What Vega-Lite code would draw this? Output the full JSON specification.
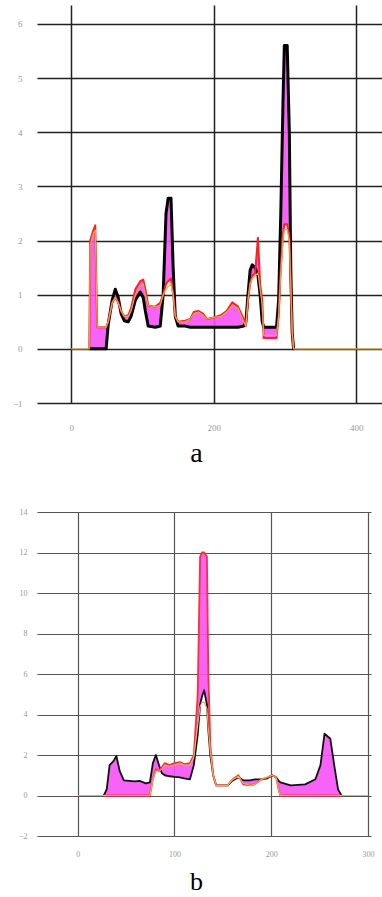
{
  "$schema": "https://vega.github.io/schema/vega-lite/v6.json",
  "padding": {"left": 12, "top": 5, "right": 0, "bottom": 0},
  "background": "white",
  "config": {"view": {"stroke": null}, "concat": {"spacing": 41}},
  "vconcat": [
    {
      "width": 345,
      "height": 398,
      "data": {"values": [
        {"x": 0, "black": null, "red": null, "orange": 0},
        {"x": 25.3, "black": 0, "red": 0, "orange": 0},
        {"x": 26.7, "black": 0, "red": 2.0, "orange": 1.9},
        {"x": 30, "black": 0, "red": 2.15, "orange": 2.1},
        {"x": 33.7, "black": 0, "red": 2.28, "orange": 2.2},
        {"x": 36.5, "black": 0, "red": 0.4, "orange": 0.4},
        {"x": 49, "black": 0, "red": 0.4, "orange": 0.4},
        {"x": 51.9, "black": 0.45, "red": 0.5, "orange": 0.5},
        {"x": 57.5, "black": 0.9, "red": 0.85, "orange": 0.85},
        {"x": 61.8, "black": 1.1, "red": 0.95, "orange": 0.95},
        {"x": 66, "black": 0.95, "red": 0.85, "orange": 0.85},
        {"x": 70, "black": 0.65, "red": 0.7, "orange": 0.7},
        {"x": 74.4, "black": 0.52, "red": 0.6, "orange": 0.6},
        {"x": 80, "black": 0.5, "red": 0.62, "orange": 0.6},
        {"x": 84, "black": 0.6, "red": 0.75, "orange": 0.7},
        {"x": 90, "black": 0.9, "red": 1.1, "orange": 1.0},
        {"x": 96.8, "black": 1.05, "red": 1.25, "orange": 1.15},
        {"x": 101, "black": 0.95, "red": 1.28, "orange": 1.2},
        {"x": 104, "black": 0.7, "red": 1.1, "orange": 1.0},
        {"x": 108, "black": 0.42, "red": 0.8, "orange": 0.8},
        {"x": 118, "black": 0.4, "red": 0.78, "orange": 0.78},
        {"x": 124.9, "black": 0.42, "red": 0.85, "orange": 0.8},
        {"x": 129, "black": 1.0, "red": 1.0, "orange": 1.0},
        {"x": 133, "black": 2.5, "red": 1.2, "orange": 1.1},
        {"x": 136, "black": 2.78, "red": 1.25, "orange": 1.15},
        {"x": 140, "black": 2.78, "red": 1.3, "orange": 1.2},
        {"x": 143, "black": 1.5, "red": 1.0, "orange": 1.0},
        {"x": 146, "black": 0.6, "red": 0.6, "orange": 0.6},
        {"x": 150, "black": 0.42, "red": 0.5, "orange": 0.5},
        {"x": 160, "black": 0.42, "red": 0.52, "orange": 0.5},
        {"x": 167, "black": 0.4, "red": 0.55, "orange": 0.55},
        {"x": 172, "black": 0.4, "red": 0.68, "orange": 0.65},
        {"x": 178, "black": 0.4, "red": 0.7, "orange": 0.68},
        {"x": 185, "black": 0.4, "red": 0.65, "orange": 0.62},
        {"x": 190, "black": 0.4, "red": 0.55, "orange": 0.55},
        {"x": 200, "black": 0.4, "red": 0.58, "orange": 0.58},
        {"x": 210, "black": 0.4, "red": 0.62, "orange": 0.6},
        {"x": 218, "black": 0.4, "red": 0.7, "orange": 0.68},
        {"x": 226, "black": 0.4, "red": 0.86, "orange": 0.8},
        {"x": 234, "black": 0.4, "red": 0.78, "orange": 0.75},
        {"x": 242, "black": 0.42, "red": 0.55, "orange": 0.5},
        {"x": 245, "black": 0.5, "red": 0.42, "orange": 0.42},
        {"x": 248, "black": 1.0, "red": 0.9, "orange": 0.9},
        {"x": 251, "black": 1.45, "red": 1.2, "orange": 1.2},
        {"x": 254, "black": 1.55, "red": 1.35, "orange": 1.3},
        {"x": 258, "black": 1.5, "red": 1.4, "orange": 1.35},
        {"x": 262, "black": 1.35, "red": 2.05, "orange": 1.4},
        {"x": 265, "black": 1.0, "red": 1.2, "orange": 1.1},
        {"x": 268, "black": 0.5, "red": 0.9, "orange": 0.8},
        {"x": 270, "black": 0.4, "red": 0.2, "orange": 0.25},
        {"x": 288, "black": 0.4, "red": 0.2, "orange": 0.25},
        {"x": 291, "black": 0.9, "red": 0.6, "orange": 0.6},
        {"x": 294, "black": 2.5, "red": 1.5, "orange": 1.4},
        {"x": 297, "black": 4.5, "red": 2.1, "orange": 2.0},
        {"x": 299, "black": 5.6, "red": 2.3, "orange": 2.2},
        {"x": 303, "black": 5.6, "red": 2.3, "orange": 2.2},
        {"x": 306, "black": 4.0, "red": 2.1, "orange": 2.0},
        {"x": 308, "black": 1.5, "red": 1.2, "orange": 1.2},
        {"x": 310, "black": 0.3, "red": 0.3, "orange": 0.3},
        {"x": 312, "black": 0, "red": 0, "orange": 0},
        {"x": 436, "black": null, "red": null, "orange": 0}
      ]},
      "encoding": {
        "x": {"field": "x", "type": "quantitative",
          "scale": {"domain": [-48, 436], "nice": false, "zero": false},
          "axis": {"values": [0, 200, 400], "grid": true, "gridColor": "#222", "gridWidth": 1.5,
            "domain": false, "ticks": false, "labelColor": "#999", "labelFont": "Liberation Serif",
            "labelFontSize": 9, "labelPadding": 20, "title": "a", "titleFont": "Liberation Serif",
            "titleFontSize": 28, "titleFontWeight": "normal", "titleColor": "#000", "titlePadding": 7,
            "titleX": 159, "titleAlign": "center"}}
      },
      "layer": [
        {"mark": {"type": "area", "color": "#f552f5", "opacity": 0.9},
          "encoding": {"y": {"field": "black", "type": "quantitative",
            "scale": {"domain": [-1, 6.35], "nice": false, "zero": false},
            "axis": {"values": [-1, 0, 1, 2, 3, 4, 5, 6], "grid": true, "gridColor": "#222", "gridWidth": 1.5,
              "domain": false, "ticks": false, "labelColor": "#999", "labelFont": "Liberation Serif",
              "labelFontSize": 9, "labelPadding": 15, "title": null}},
            "y2": {"field": "red"}}},
        {"mark": {"type": "line", "color": "#000", "strokeWidth": 3, "strokeJoin": "round", "strokeCap": "round"},
          "encoding": {"y": {"field": "black", "type": "quantitative", "scale": {"domain": [-1, 6.35], "nice": false, "zero": false},
            "axis": {"values": [-1, 0, 1, 2, 3, 4, 5, 6], "grid": true, "gridColor": "#222", "gridWidth": 1.5,
              "domain": false, "ticks": false, "labelColor": "#999", "labelFont": "Liberation Serif",
              "labelFontSize": 9, "labelPadding": 15, "title": null}}}},
        {"mark": {"type": "line", "color": "#ff2020", "strokeWidth": 2, "strokeJoin": "round"},
          "encoding": {"y": {"field": "red", "type": "quantitative", "scale": {"domain": [-1, 6.35], "nice": false, "zero": false},
            "axis": {"values": [-1, 0, 1, 2, 3, 4, 5, 6], "grid": true, "gridColor": "#222", "gridWidth": 1.5,
              "domain": false, "ticks": false, "labelColor": "#999", "labelFont": "Liberation Serif",
              "labelFontSize": 9, "labelPadding": 15, "title": null}}}},
        {"mark": {"type": "line", "color": "#e0a850", "strokeWidth": 1.2},
          "encoding": {"y": {"field": "orange", "type": "quantitative", "scale": {"domain": [-1, 6.35], "nice": false, "zero": false},
            "axis": {"values": [-1, 0, 1, 2, 3, 4, 5, 6], "grid": true, "gridColor": "#222", "gridWidth": 1.5,
              "domain": false, "ticks": false, "labelColor": "#999", "labelFont": "Liberation Serif",
              "labelFontSize": 9, "labelPadding": 15, "title": null}}}}
      ]
    },
    {
      "width": 334,
      "height": 324,
      "data": {"values": [
        {"x": 0, "black": null, "red": null, "orange": 0},
        {"x": 27, "black": 0, "red": 0, "orange": 0},
        {"x": 30, "black": 0.3, "red": 0, "orange": 0},
        {"x": 33, "black": 1.5, "red": 0, "orange": 0},
        {"x": 37, "black": 1.7, "red": 0, "orange": 0},
        {"x": 40, "black": 1.95, "red": 0, "orange": 0},
        {"x": 43.5, "black": 1.2, "red": 0, "orange": 0},
        {"x": 47.7, "black": 0.75, "red": 0, "orange": 0},
        {"x": 59, "black": 0.7, "red": 0, "orange": 0},
        {"x": 64, "black": 0.72, "red": 0, "orange": 0},
        {"x": 70.5, "black": 0.6, "red": 0, "orange": 0},
        {"x": 74.6, "black": 0.65, "red": 0, "orange": 0},
        {"x": 77.7, "black": 1.6, "red": 0.8, "orange": 0.8},
        {"x": 80.8, "black": 2.0, "red": 1.3, "orange": 1.2},
        {"x": 84, "black": 1.5, "red": 1.2, "orange": 1.2},
        {"x": 87, "black": 1.1, "red": 1.4, "orange": 1.3},
        {"x": 90, "black": 1.0, "red": 1.6, "orange": 1.5},
        {"x": 95, "black": 0.95, "red": 1.5, "orange": 1.45},
        {"x": 100, "black": 0.92, "red": 1.6, "orange": 1.5},
        {"x": 105.7, "black": 0.9, "red": 1.65, "orange": 1.6},
        {"x": 110, "black": 0.85, "red": 1.55, "orange": 1.5},
        {"x": 116, "black": 0.8, "red": 1.6, "orange": 1.5},
        {"x": 120, "black": 1.5, "red": 2.0, "orange": 1.9},
        {"x": 124, "black": 3.0, "red": 5.0, "orange": 3.5},
        {"x": 126.5, "black": 4.5, "red": 11.8, "orange": 4.4},
        {"x": 128.5, "black": 4.9, "red": 12.0, "orange": 4.6},
        {"x": 130.6, "black": 5.2, "red": 12.0, "orange": 4.6},
        {"x": 133.5, "black": 4.5, "red": 11.8, "orange": 4.3},
        {"x": 135, "black": 3.2, "red": 6.0, "orange": 3.3},
        {"x": 137, "black": 2.0, "red": 2.5, "orange": 2.2},
        {"x": 140, "black": 1.0, "red": 1.0, "orange": 1.0},
        {"x": 143, "black": 0.5, "red": 0.5, "orange": 0.5},
        {"x": 155, "black": 0.5, "red": 0.5, "orange": 0.5},
        {"x": 159, "black": 0.7, "red": 0.75, "orange": 0.75},
        {"x": 166, "black": 0.9, "red": 1.0, "orange": 0.95},
        {"x": 171, "black": 0.75, "red": 0.55, "orange": 0.6},
        {"x": 178, "black": 0.75, "red": 0.5, "orange": 0.5},
        {"x": 183, "black": 0.8, "red": 0.55, "orange": 0.55},
        {"x": 190, "black": 0.8, "red": 0.8, "orange": 0.8},
        {"x": 196, "black": 0.85, "red": 0.9, "orange": 0.9},
        {"x": 201, "black": 1.0, "red": 1.0, "orange": 1.0},
        {"x": 205, "black": 0.9, "red": 0.9, "orange": 0.9},
        {"x": 208, "black": 0.7, "red": 0.2, "orange": 0.2},
        {"x": 209.5, "black": 0.65, "red": 0, "orange": 0},
        {"x": 220, "black": 0.5, "red": 0, "orange": 0},
        {"x": 235, "black": 0.55, "red": 0, "orange": 0},
        {"x": 245.6, "black": 0.8, "red": 0, "orange": 0},
        {"x": 250.8, "black": 1.5, "red": 0, "orange": 0},
        {"x": 255, "black": 3.05, "red": 0, "orange": 0},
        {"x": 261, "black": 2.8, "red": 0, "orange": 0},
        {"x": 265, "black": 1.5, "red": 0, "orange": 0},
        {"x": 269, "black": 0.3, "red": 0, "orange": 0},
        {"x": 272.5, "black": 0, "red": 0, "orange": 0},
        {"x": 300, "black": null, "red": null, "orange": 0}
      ]},
      "encoding": {
        "x": {"field": "x", "type": "quantitative",
          "scale": {"domain": [-42, 303], "nice": false, "zero": false},
          "axis": {"values": [0, 100, 200, 300], "grid": true, "gridColor": "#555", "gridWidth": 1.2,
            "domain": false, "ticks": false, "labelColor": "#999", "labelFont": "Liberation Serif",
            "labelFontSize": 8, "labelPadding": 14, "title": "b", "titleFont": "Liberation Serif",
            "titleFontSize": 26, "titleFontWeight": "normal", "titleColor": "#000", "titlePadding": 10,
            "titleX": 159, "titleAlign": "center"}}
      },
      "layer": [
        {"mark": {"type": "area", "color": "#f552f5", "opacity": 0.9},
          "encoding": {"y": {"field": "black", "type": "quantitative",
            "scale": {"domain": [-2, 14], "nice": false, "zero": false},
            "axis": {"values": [-2, 0, 2, 4, 6, 8, 10, 12, 14], "grid": true, "gridColor": "#555", "gridWidth": 1.2,
              "domain": false, "ticks": false, "labelColor": "#999", "labelFont": "Liberation Serif",
              "labelFontSize": 8, "labelPadding": 10, "title": null}},
            "y2": {"field": "red"}}},
        {"mark": {"type": "line", "color": "#111", "strokeWidth": 1.8, "strokeJoin": "round"},
          "encoding": {"y": {"field": "black", "type": "quantitative", "scale": {"domain": [-2, 14], "nice": false, "zero": false},
            "axis": {"values": [-2, 0, 2, 4, 6, 8, 10, 12, 14], "grid": true, "gridColor": "#555", "gridWidth": 1.2,
              "domain": false, "ticks": false, "labelColor": "#999", "labelFont": "Liberation Serif",
              "labelFontSize": 8, "labelPadding": 10, "title": null}}}},
        {"mark": {"type": "line", "color": "#ff3030", "strokeWidth": 1.8, "strokeJoin": "round"},
          "encoding": {"y": {"field": "red", "type": "quantitative", "scale": {"domain": [-2, 14], "nice": false, "zero": false},
            "axis": {"values": [-2, 0, 2, 4, 6, 8, 10, 12, 14], "grid": true, "gridColor": "#555", "gridWidth": 1.2,
              "domain": false, "ticks": false, "labelColor": "#999", "labelFont": "Liberation Serif",
              "labelFontSize": 8, "labelPadding": 10, "title": null}}}},
        {"mark": {"type": "line", "color": "#e0b060", "strokeWidth": 1.2},
          "encoding": {"y": {"field": "orange", "type": "quantitative", "scale": {"domain": [-2, 14], "nice": false, "zero": false},
            "axis": {"values": [-2, 0, 2, 4, 6, 8, 10, 12, 14], "grid": true, "gridColor": "#555", "gridWidth": 1.2,
              "domain": false, "ticks": false, "labelColor": "#999", "labelFont": "Liberation Serif",
              "labelFontSize": 8, "labelPadding": 10, "title": null}}}}
      ]
    }
  ]
}
